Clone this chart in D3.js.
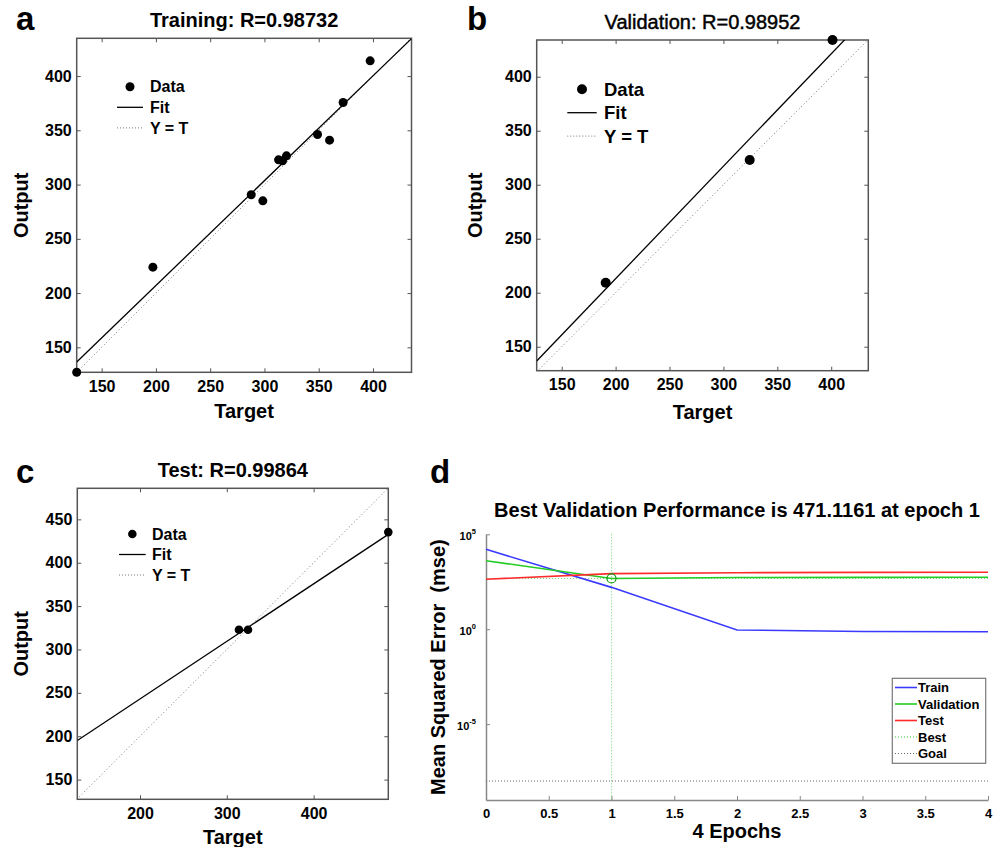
<!DOCTYPE html>
<html><head><meta charset="utf-8">
<script src="https://cdn.jsdelivr.net/npm/d3@7/dist/d3.min.js"></script>
<style>
body{margin:0;background:#fff;}
svg{display:block;font-family:"Liberation Sans",Arial,sans-serif;}
</style></head>
<body><svg id="chart" width="1001" height="847"></svg>
<script>
// ---------- DATA ----------
const trainTarget = [127, 197.2, 287.8, 298.5, 313, 316.7, 320.3, 348.9, 360, 372.5, 397.4];
const trainOutput = [127, 223.9, 290.6, 285, 322.8, 322, 326.5, 346.1, 340.9, 375.6, 414];
const trainFit = {slope: 0.966, intercept: 13.8};
const trainTitle = "Training: R=0.98732";

const valTarget = [190.8, 324.4, 401.2];
const valOutput = [209.3, 322.9, 434];
const valFit = {slope: 1.041, intercept: 4.8};
const valTitle = "Validation: R=0.98952";

const testTarget = [314, 324.4, 486];
const testOutput = [322.7, 322.7, 435.3];
const testFit = {slope: 0.6636, intercept: 110.2};
const testTitle = "Test: R=0.99864";

const ticksAB = [150, 200, 250, 300, 350, 400];
const ticksCX = [200, 300, 400];
const ticksCY = [150, 200, 250, 300, 350, 400, 450];
const legendLabels = ["Data", "Fit", "Y = T"];

const epochs = [0, 1, 2, 3, 4];
const trainMSE = [16200, 160, 0.91, 0.76, 0.74];
const valMSE = [4070, 471.1161, 530, 540, 545];
const testMSE = [430, 850, 950, 980, 1000];
const bestEpoch = 1, bestPerf = 471.1161;
const goalMSE = 1e-8;
const perfTitle = "Best Validation Performance is 471.1161 at epoch 1";
const epochTicks = [0, 0.5, 1, 1.5, 2, 2.5, 3, 3.5, 4];
const epochTickLabels = ["0", "0.5", "1", "1.5", "2", "2.5", "3", "3.5", "4"];
const mseTicks = [1e-5, 1e0, 1e5];
const mseTickExp = ["-5", "0", "5"];
const perfLegend = ["Train", "Validation", "Test", "Best", "Goal"];

// ---------- DRAW ----------
const svg = d3.select("#chart");
svg.append("rect").attr("width", 1001).attr("height", 847).attr("fill", "#fff");
const defs = svg.append("defs");
const FONT = '"Liberation Sans",Arial,sans-serif';

function scatterPanel(id, box, xDom, yDom, T, O, fit, tx, ty, title, titleWeight, letter, letterPos, leg, r, axisLabelY) {
  const x = d3.scaleLinear().domain(xDom).range([box.l, box.r]);
  const y = d3.scaleLinear().domain(yDom).range([box.b, box.t]);
  const g = svg.append("g");
  defs.append("clipPath").attr("id", id).append("rect")
    .attr("x", box.l).attr("y", box.t).attr("width", box.r - box.l).attr("height", box.b - box.t);

  const axStyle = sel => {
    sel.select(".domain").remove();
    sel.selectAll(".tick line").attr("stroke", "#555").attr("stroke-width", 1);
    sel.selectAll("text").attr("font-family", FONT).attr("font-weight", "bold").attr("font-size", 16).attr("fill", "#000");
  };
  g.append("g").attr("transform", `translate(0,${box.b})`)
    .call(d3.axisBottom(x).tickValues(tx).tickSizeInner(-4).tickSizeOuter(0).tickPadding(8).tickFormat(d3.format("d")))
    .call(axStyle);
  g.append("g").attr("transform", `translate(0,${box.t})`)
    .call(d3.axisTop(x).tickValues(tx).tickSizeInner(-4).tickSizeOuter(0).tickFormat(""))
    .call(axStyle);
  g.append("g").attr("transform", `translate(${box.l},0)`)
    .call(d3.axisLeft(y).tickValues(ty).tickSizeInner(-4).tickSizeOuter(0).tickPadding(5).tickFormat(d3.format("d")))
    .call(axStyle);
  g.append("g").attr("transform", `translate(${box.r},0)`)
    .call(d3.axisRight(y).tickValues(ty).tickSizeInner(-4).tickSizeOuter(0).tickFormat(""))
    .call(axStyle);

  g.append("rect").attr("x", box.l).attr("y", box.t).attr("width", box.r - box.l).attr("height", box.b - box.t)
    .attr("fill", "none").attr("stroke", "#555").attr("stroke-width", 1.5);

  const cg = g.append("g").attr("clip-path", `url(#${id})`);
  const lo = Math.min(xDom[0], yDom[0]), hi = Math.max(xDom[1], yDom[1]);
  cg.append("line").attr("x1", x(lo)).attr("y1", y(lo)).attr("x2", x(hi)).attr("y2", y(hi))
    .attr("stroke", "#777").attr("stroke-width", 1).attr("stroke-dasharray", "1,2.5");
  cg.append("line").attr("x1", x(xDom[0])).attr("y1", y(fit.slope * xDom[0] + fit.intercept))
    .attr("x2", x(xDom[1])).attr("y2", y(fit.slope * xDom[1] + fit.intercept))
    .attr("stroke", "#000").attr("stroke-width", 1.3);

  g.selectAll("circle.pt").data(T).join("circle").attr("class", "pt")
    .attr("cx", d => x(d)).attr("cy", (d, i) => y(O[i])).attr("r", r).attr("fill", "#000");

  const tt = g.append("text").attr("x", (box.l + box.r) / 2).attr("y", box.t - 11).attr("text-anchor", "middle")
    .attr("font-size", 20).attr("font-weight", titleWeight).text(title);
  if (titleWeight === "normal") tt.attr("stroke", "#000").attr("stroke-width", 0.45);
  g.append("text").attr("x", letterPos[0]).attr("y", letterPos[1]).attr("font-size", 33)
    .attr("font-weight", "bold").text(letter);
  g.append("text").attr("x", (box.l + box.r) / 2).attr("y", axisLabelY.x).attr("text-anchor", "middle")
    .attr("font-size", 20).attr("font-weight", "bold").text("Target");
  g.append("text").attr("transform", `translate(${axisLabelY.yx},${(box.t + box.b) / 2}) rotate(-90)`)
    .attr("text-anchor", "middle").attr("font-size", 20).attr("font-weight", "bold").text("Output");

  const lg = g.append("g");
  lg.append("circle").attr("cx", leg.x + leg.w / 2).attr("cy", leg.y).attr("r", r).attr("fill", "#000");
  lg.append("line").attr("x1", leg.x).attr("x2", leg.x + leg.w).attr("y1", leg.y + leg.dy).attr("y2", leg.y + leg.dy)
    .attr("stroke", "#000").attr("stroke-width", 1.3);
  lg.append("line").attr("x1", leg.x).attr("x2", leg.x + leg.w).attr("y1", leg.y + 2 * leg.dy).attr("y2", leg.y + 2 * leg.dy)
    .attr("stroke", "#777").attr("stroke-width", 1).attr("stroke-dasharray", "1,2");
  legendLabels.forEach((t, i) => {
    lg.append("text").attr("x", leg.tx).attr("y", leg.y + i * leg.dy).attr("dy", "0.36em")
      .attr("font-size", leg.fs).attr("font-weight", "bold").text(t);
  });
}

scatterPanel("clipA", {l: 76.7, r: 411.5, t: 38.3, b: 372.3}, [127, 435.5], [127, 434.8],
  trainTarget, trainOutput, trainFit, ticksAB, ticksAB, trainTitle, "bold", "a", [16, 30],
  {x: 117, w: 26, y: 86.7, dy: 20.6, tx: 150, fs: 16}, 4.5, {x: 418, yx: 28});

scatterPanel("clipB", {l: 536.7, r: 868.3, t: 40, b: 370.7}, [126.8, 434.4], [127.8, 434],
  valTarget, valOutput, valFit, ticksAB, ticksAB, valTitle, "normal", "b", [467, 30],
  {x: 567.3, w: 29.4, y: 89.3, dy: 23.4, tx: 604, fs: 18.5}, 5, {x: 419, yx: 481.5});

scatterPanel("clipC", {l: 77.3, r: 388.3, t: 488.3, b: 799.3}, [127.8, 486], [127.3, 485.8],
  testTarget, testOutput, testFit, ticksCX, ticksCY, testTitle, "bold", "c", [16, 483],
  {x: 119, w: 26.7, y: 534, dy: 20.5, tx: 152, fs: 16}, 4.3, {x: 844, yx: 28});

// ---------- Panel d ----------
(function () {
  const box = {l: 486, r: 988, t: 534.3, b: 800};
  const x = d3.scaleLinear().domain([0, 4]).range([box.l, box.r]);
  const y = d3.scaleLog().domain([1e-9, 1e5]).range([box.b, box.t]);
  const g = svg.append("g");
  const axStyle = sel => {
    sel.select(".domain").attr("stroke", "#888").attr("stroke-width", 1.5);
    sel.selectAll(".tick line").attr("stroke", "#888").attr("stroke-width", 1);
    sel.selectAll("text").attr("font-family", FONT).attr("font-weight", "bold").attr("font-size", 13).attr("fill", "#000");
  };
  g.append("g").attr("transform", `translate(0,${box.b})`)
    .call(d3.axisBottom(x).tickValues(epochTicks).tickSizeInner(-4).tickSizeOuter(0).tickPadding(9)
      .tickFormat((d, i) => epochTickLabels[i]))
    .call(axStyle);
  const ya = g.append("g").attr("transform", `translate(${box.l},0)`)
    .call(d3.axisLeft(y).tickValues(mseTicks).tickSizeInner(-4).tickSizeOuter(0).tickFormat(""))
    .call(axStyle);
  ya.selectAll(".tick").each(function (d, i) {
    const t = d3.select(this).append("text").attr("x", -10).attr("y", 5).attr("text-anchor", "end")
      .attr("font-family", FONT).attr("font-weight", "bold").attr("fill", "#000");
    t.append("tspan").attr("font-size", 11).text("10");
    t.append("tspan").attr("font-size", 7.5).attr("dy", -6).text(mseTickExp[i]);
  });

  g.append("line").attr("x1", box.l).attr("x2", box.r).attr("y1", y(goalMSE)).attr("y2", y(goalMSE))
    .attr("stroke", "#666").attr("stroke-width", 1).attr("stroke-dasharray", "1,2");
  g.append("line").attr("x1", x(bestEpoch)).attr("x2", x(bestEpoch)).attr("y1", box.t).attr("y2", box.b)
    .attr("stroke", "#3c3").attr("stroke-width", 1).attr("stroke-dasharray", "1,2").attr("opacity", 0.7);
  g.append("line").attr("x1", box.l).attr("x2", box.r).attr("y1", y(bestPerf)).attr("y2", y(bestPerf))
    .attr("stroke", "#3c3").attr("stroke-width", 1).attr("stroke-dasharray", "1,2").attr("opacity", 0.7);

  const line = d3.line().x((d, i) => x(epochs[i])).y(d => y(d));
  const series = [[trainMSE, "#3a3aff"], [valMSE, "#22cc22"], [testMSE, "#ff2a2a"]];
  series.forEach(([s, c]) => {
    g.append("path").attr("d", line(s)).attr("fill", "none").attr("stroke", c).attr("stroke-width", 1.6);
  });
  g.append("circle").attr("cx", x(bestEpoch)).attr("cy", y(bestPerf)).attr("r", 4.5)
    .attr("fill", "none").attr("stroke", "#119911").attr("stroke-width", 1.2);

  g.append("text").attr("x", (box.l + box.r) / 2).attr("y", 517).attr("text-anchor", "middle")
    .attr("font-size", 20).attr("font-weight", "bold").text(perfTitle);
  g.append("text").attr("x", 430).attr("y", 483).attr("font-size", 33).attr("font-weight", "bold").text("d");
  g.append("text").attr("x", (box.l + box.r) / 2).attr("y", 838).attr("text-anchor", "middle")
    .attr("font-size", 20).attr("font-weight", "bold").text("4 Epochs");
  g.append("text").attr("transform", `translate(445,${(box.t + box.b) / 2}) rotate(-90)`)
    .attr("text-anchor", "middle").attr("font-size", 20).attr("font-weight", "bold")
    .attr("xml:space", "preserve").style("white-space", "pre").text("Mean Squared Error  (mse)");

  const lg = g.append("g");
  lg.append("rect").attr("x", 892.3).attr("y", 678.3).attr("width", 93.4).attr("height", 85)
    .attr("fill", "#fff").attr("stroke", "#777").attr("stroke-width", 1.2);
  const legStyles = [
    {c: "#3a3aff", w: 1.6, dash: null}, {c: "#22cc22", w: 1.6, dash: null}, {c: "#ff2a2a", w: 1.6, dash: null},
    {c: "#3c3", w: 1, dash: "1,2"}, {c: "#666", w: 1, dash: "1,2"}];
  perfLegend.forEach((t, i) => {
    const yy = 687.5 + i * 16.5;
    const l = lg.append("line").attr("x1", 895).attr("x2", 917).attr("y1", yy).attr("y2", yy)
      .attr("stroke", legStyles[i].c).attr("stroke-width", legStyles[i].w);
    if (legStyles[i].dash) l.attr("stroke-dasharray", legStyles[i].dash);
    lg.append("text").attr("x", 918).attr("y", yy).attr("dy", "0.36em").attr("font-size", 13)
      .attr("font-weight", "bold").text(t);
  });
})();
</script>
</body></html>
